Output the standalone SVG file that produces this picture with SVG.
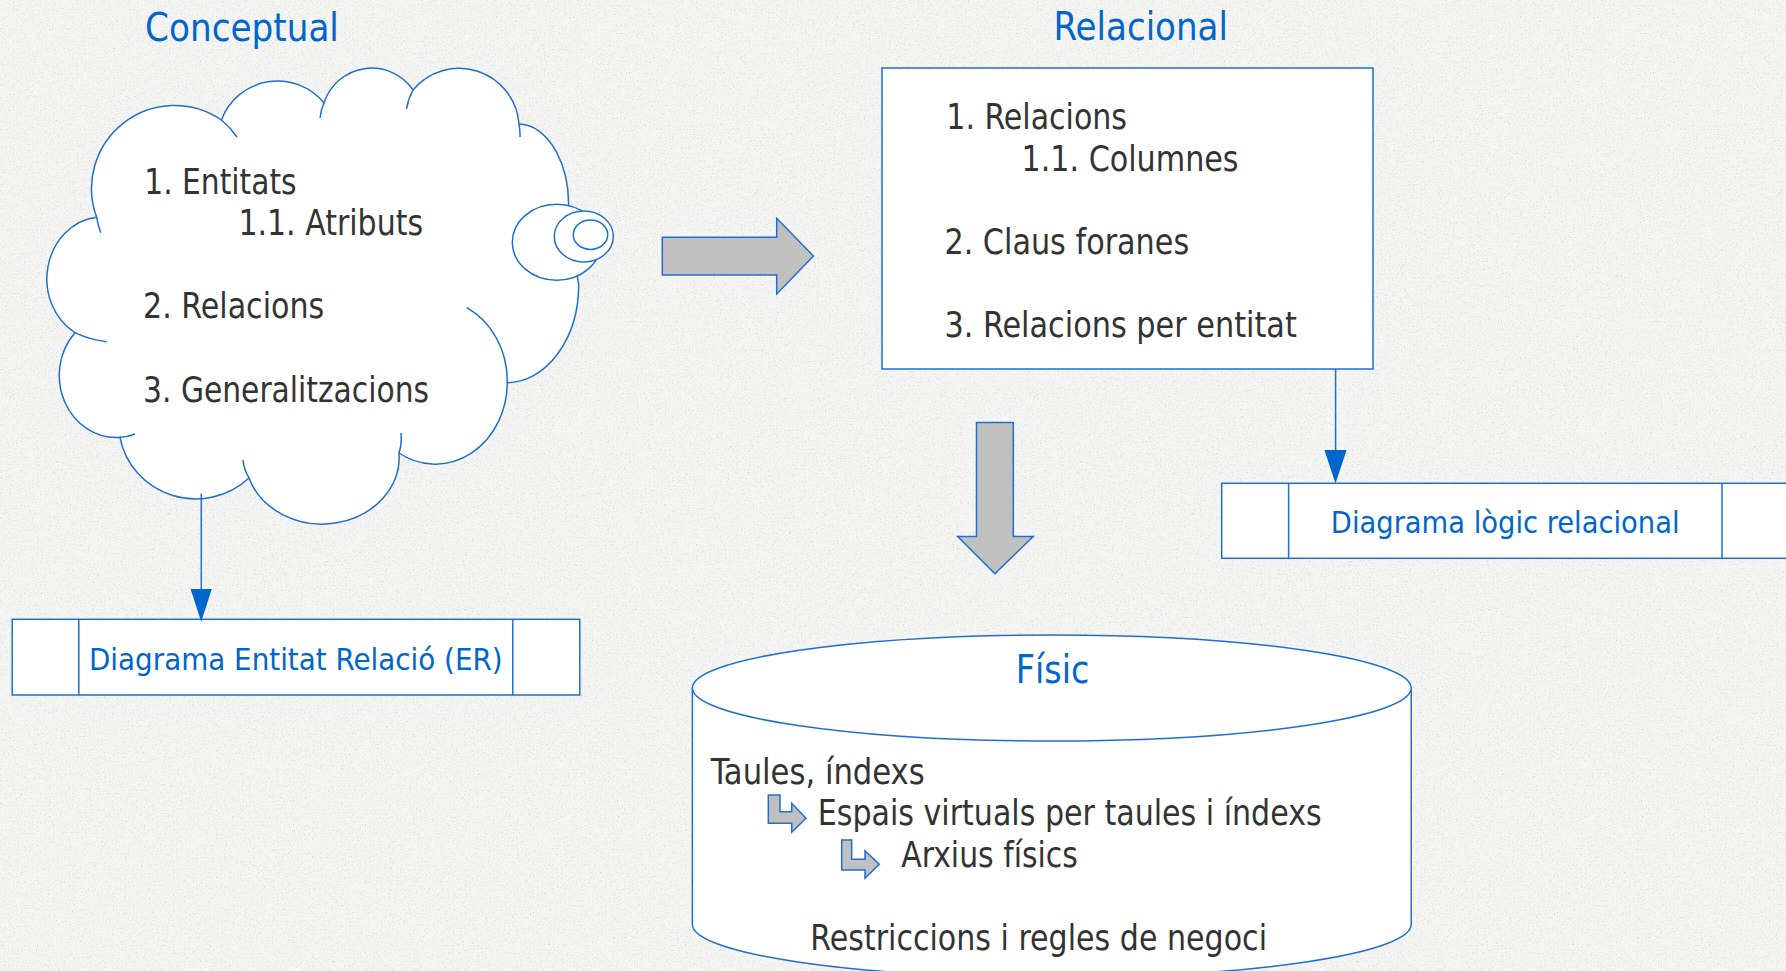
<svg xmlns="http://www.w3.org/2000/svg" width="1786" height="971" viewBox="0 0 1786 971">
<defs>
<style>
.ln{fill:none;stroke:#1E6FD0;stroke-width:1.5}
.sh{fill:#FFFFFF;stroke:#1E6FD0;stroke-width:1.5}
.blk{fill:#C0C0C0;stroke:#1E6FD0;stroke-width:1.5}
.ah{fill:#0066CC;stroke:none}
.t{font-family:"DejaVu Sans","Liberation Sans",sans-serif;font-stretch:condensed;fill:#333333;font-size:35px}
.ti{font-family:"DejaVu Sans","Liberation Sans",sans-serif;font-stretch:condensed;fill:#0066CC;font-size:39px}
.lb{font-family:"DejaVu Sans","Liberation Sans",sans-serif;font-stretch:condensed;fill:#0066CC;font-size:30px}
</style>
<filter id="grain" x="0" y="0" width="100%" height="100%">
<feTurbulence type="fractalNoise" baseFrequency="0.75" numOctaves="2" seed="7" result="n"/>
<feColorMatrix in="n" type="matrix" values="0 0 0 0 0.55  0 0 0 0 0.55  0 0 0 0 0.54  3 0 0 0 -1.7"/>
</filter>
</defs>
<rect x="0" y="0" width="1786" height="971" fill="#F5F5F3"/>
<rect x="0" y="0" width="1786" height="971" filter="url(#grain)" opacity="0.75"/>

<g id="conceptual">
<text class="ti" x="145.1" y="40.6" textLength="193.8" lengthAdjust="spacingAndGlyphs">Conceptual</text>
<path class="sh" d="M96.7,217.3 A83,83 0 0 1 221.4,120 A60,60 0 0 1 324,103 A50,50 0 0 1 413,90 A60,60 0 0 1 519,124 A50,80 0 0 1 568,215 L578.7,285 A72,98 0 0 1 507.3,382.7 A72,82 0 0 1 399,453 A77,67 0 0 1 249,478 A77,75 0 0 1 120,437.3 A57,62 0 0 1 75,332.7 A56,62 0 0 1 96.7,217.3 Z"/>
<path class="ln" d="M96.7,217.3 A83,83 0 0 0 100.7,232.7 M221.4,120 A83,83 0 0 1 237,137 M320,118 A50,50 0 0 1 324,103 M406.5,109 A60,60 0 0 1 413,90 M519,124 A60,60 0 0 1 520,137 M466.7,307.7 A72,82 0 0 1 507.3,382.7 M401,433 Q402,445 399,453 M249,478 Q244,470 243,460 M135,434 Q128,437 120,437.3 M75,332.7 Q90,340 106.7,341.7"/>
<ellipse class="sh" cx="556.7" cy="242.3" rx="44.4" ry="38"/>
<ellipse class="sh" cx="583.8" cy="236.5" rx="29.5" ry="25.5"/>
<ellipse class="sh" cx="590.5" cy="234.7" rx="17.2" ry="14.7"/>
<text class="t" x="144.3" y="194.4" textLength="152.3" lengthAdjust="spacingAndGlyphs">1. Entitats</text>
<text class="t" x="238.4" y="234.9" textLength="184.7" lengthAdjust="spacingAndGlyphs">1.1. Atributs</text>
<text class="t" x="143.1" y="317.7" textLength="181.1" lengthAdjust="spacingAndGlyphs">2. Relacions</text>
<text class="t" x="143.1" y="401.5" textLength="285.9" lengthAdjust="spacingAndGlyphs">3. Generalitzacions</text>
</g>

<g id="relacional">
<text class="ti" x="1053.5" y="40" textLength="174.5" lengthAdjust="spacingAndGlyphs">Relacional</text>
<rect class="sh" x="882" y="68" width="491" height="301"/>
<text class="t" x="946.3" y="129" textLength="180.7" lengthAdjust="spacingAndGlyphs">1. Relacions</text>
<text class="t" x="1021.5" y="170.7" textLength="217.1" lengthAdjust="spacingAndGlyphs">1.1. Columnes</text>
<text class="t" x="944.4" y="254" textLength="244.8" lengthAdjust="spacingAndGlyphs">2. Claus foranes</text>
<text class="t" x="944.4" y="337.3" textLength="352.4" lengthAdjust="spacingAndGlyphs">3. Relacions per entitat</text>
</g>

<g id="diagrama-er">
<rect class="sh" x="12.2" y="619.3" width="567.6" height="75.7"/>
<line class="ln" x1="78.8" y1="619.3" x2="78.8" y2="695"/>
<line class="ln" x1="512.8" y1="619.3" x2="512.8" y2="695"/>
<text class="lb" x="295.8" y="670" text-anchor="middle" textLength="413.7" lengthAdjust="spacingAndGlyphs">Diagrama Entitat Relació (ER)</text>
</g>

<g id="diagrama-logic">
<rect class="sh" x="1221.7" y="483.3" width="600" height="75"/>
<line class="ln" x1="1288.6" y1="483.3" x2="1288.6" y2="558.3"/>
<line class="ln" x1="1722" y1="483.3" x2="1722" y2="558.3"/>
<text class="lb" x="1505.2" y="532.7" text-anchor="middle" textLength="348.7" lengthAdjust="spacingAndGlyphs">Diagrama lògic relacional</text>
</g>

<g id="fisic">
<path class="sh" d="M692.4,688 L692.4,924.5 A359.4,53 0 0 0 1411.2,924.5 L1411.2,688 Z"/>
<ellipse class="sh" cx="1051.8" cy="688" rx="359.4" ry="53"/>
<text class="ti" x="1015.8" y="683.3" textLength="73.6" lengthAdjust="spacingAndGlyphs">Físic</text>
<text class="t" x="710.8" y="784.2" textLength="213.9" lengthAdjust="spacingAndGlyphs">Taules, índexs</text>
<polygon class="blk" points="768.3,795 780,795 780,811.7 791.7,811.7 791.7,803.3 806,818.3 791.7,832.3 791.7,823.3 768.3,823.3"/>
<text class="t" x="817.8" y="825.4" textLength="503.8" lengthAdjust="spacingAndGlyphs">Espais virtuals per taules i índexs</text>
<polygon class="blk" points="841.7,840 851.7,840 851.7,859.3 865,859.3 865,850.7 879.3,864.3 865,878.3 865,870 841.7,870"/>
<text class="t" x="901.3" y="867.3" textLength="176.6" lengthAdjust="spacingAndGlyphs">Arxius físics</text>
<text class="t" x="810.3" y="950" textLength="456.7" lengthAdjust="spacingAndGlyphs">Restriccions i regles de negoci</text>
</g>

<g id="connectors">
<polygon class="blk" points="662.3,237.3 776.7,237.3 776.7,218.3 813.5,256 776.7,294 776.7,275 662.3,275"/>
<polygon class="blk" points="976.5,422.6 1013.3,422.6 1013.3,536.6 1033.2,536.6 994.9,573.7 957.6,536.6 976.5,536.6"/>
<line class="ln" x1="201.3" y1="493.5" x2="201.3" y2="592"/>
<polygon class="ah" points="190.6,589 211.8,589 201.2,621.7"/>
<line class="ln" x1="1335.6" y1="369" x2="1335.6" y2="453"/>
<polygon class="ah" points="1324.4,450 1346.6,450 1335.5,483.5"/>
</g>
</svg>
